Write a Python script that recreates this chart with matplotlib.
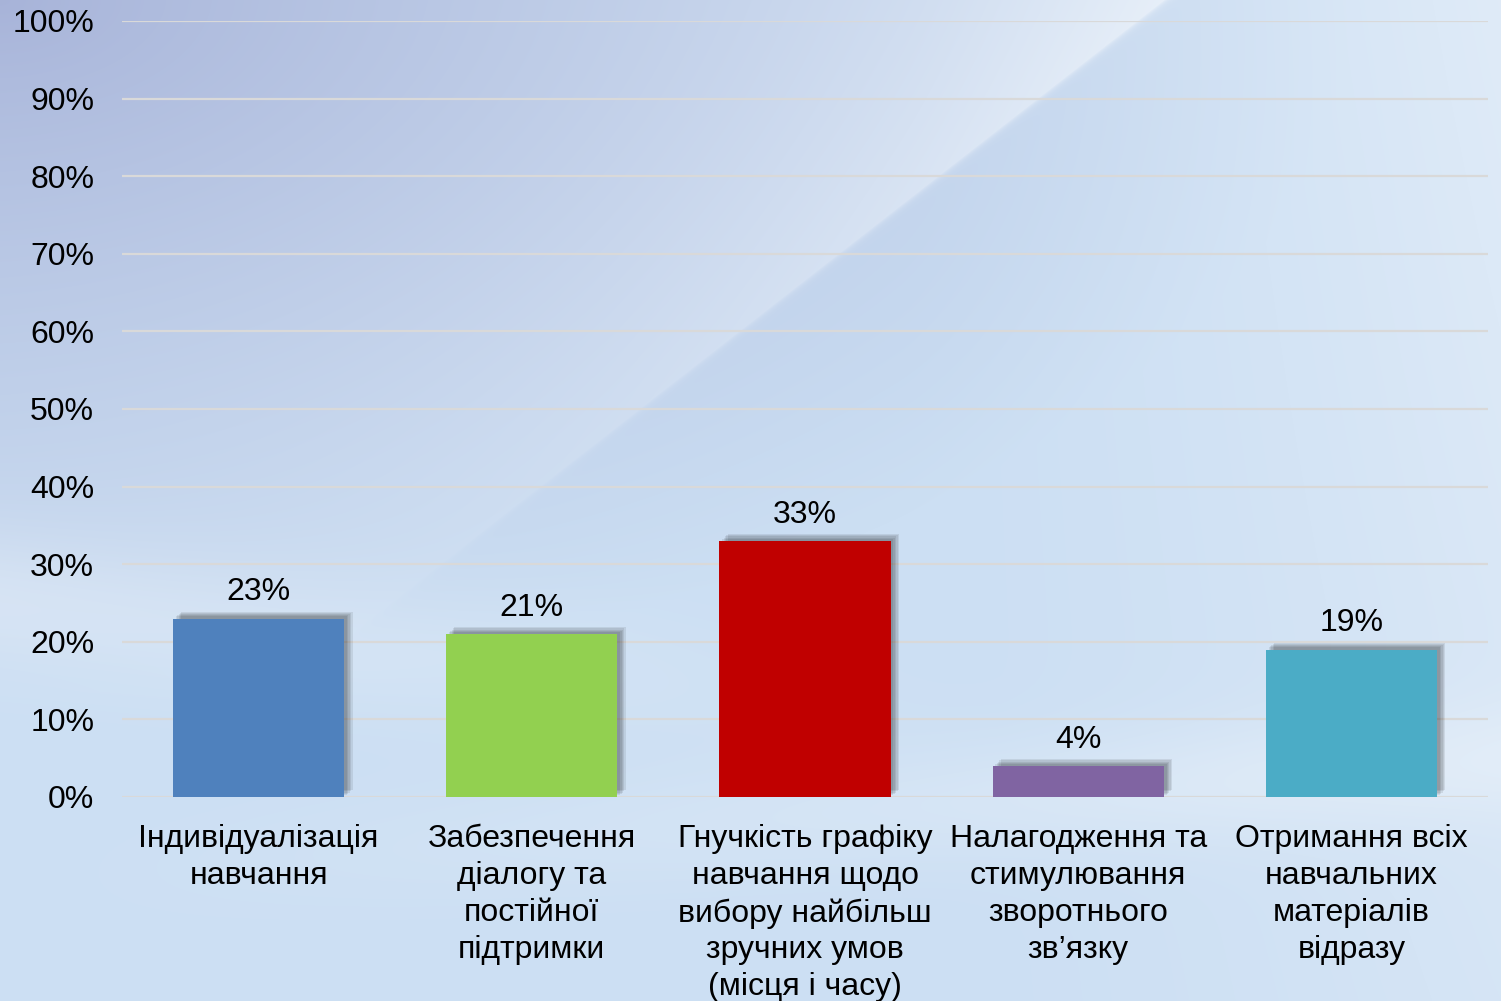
import numpy as np
import matplotlib
matplotlib.use("Agg")
import matplotlib.pyplot as plt
import matplotlib.patheffects as pe
from matplotlib.ticker import FuncFormatter

plt.rcParams['font.family'] = ['Liberation Sans', 'DejaVu Sans']

categories = [
    "Індивідуалізація\nнавчання",
    "Забезпечення\nдіалогу та\nпостійної\nпідтримки",
    "Гнучкість графіку\nнавчання щодо\nвибору найбільш\nзручних умов\n(місця і часу)",
    "Налагодження та\nстимулювання\nзворотнього\nзв’язку",
    "Отримання всіх\nнавчальних\nматеріалів\nвідразу",
]
values = [0.23, 0.21, 0.33, 0.04, 0.19]
value_labels = ["23%", "21%", "33%", "4%", "19%"]
colors = ["#4f81bd", "#92d050", "#c00000", "#8064a2", "#4bacc6"]
yticks = [0.0, 0.1, 0.2, 0.3, 0.4, 0.5, 0.6, 0.7, 0.8, 0.9, 1.0]

W, H = 1501, 1001
fig = plt.figure(figsize=(W / 100, H / 100), dpi=100)

# ---- background (decorative gradient) ----
yy, xx = np.mgrid[0:H, 0:W].astype(float)
xn, yn = xx / W, yy / H
c_dark = np.array([166, 178, 216]) / 255.0
c_mid = np.array([204, 223, 243]) / 255.0
c_light = np.array([236, 243, 251]) / 255.0
d = np.clip(np.sqrt((xn * 1.0) ** 2 + (yn * 1.3) ** 2) / 0.9, 0, 1)
t = d ** 0.8
img = (c_dark[None, None, :] * (1 - t[..., None]) + c_mid[None, None, :] * t[..., None])
# lighten toward right
r = np.clip((xn - 0.6) / 0.4, 0, 1) ** 1.5 * np.clip(1 - yn * 0.5, 0, 1)
img = img * (1 - r[..., None] * 0.6) + c_light[None, None, :] * (r[..., None] * 0.6)
# diagonal glow band
x_line = 1163 - (363 / 283) * yy
s = (x_line - xx) / np.sqrt(1 + (363 / 283) ** 2)
glow = np.where(s > 0, np.exp(-s / 200.0), np.exp(s / 3.0)) * 0.5
glow *= np.clip(1 - yn * 1.5, 0, 1)
white = np.ones(3)
img = img * (1 - glow[..., None]) + white[None, None, :] * glow[..., None]
# lower swoosh bands
b1 = np.exp(-((yy - (600 + 0.12 * xx)) / 70.0) ** 2) * 0.25 * np.clip(1 - xn * 1.5, 0, 1)
img = img * (1 - b1[..., None]) + white[None, None, :] * b1[..., None]
b2 = np.exp(-((yy - (880 - 0.08 * xx)) / 60.0) ** 2) * 0.25 * np.clip(xn * 1.2, 0, 1)
img = img * (1 - b2[..., None]) + white[None, None, :] * b2[..., None]
bg = fig.add_axes([0, 0, 1, 1], zorder=-10)
bg.imshow(np.clip(img, 0, 1), aspect='auto', extent=[0, 1, 0, 1], interpolation='bilinear')
bg.axis('off')

# ---- chart ----
left, right = 122 / W, 1488 / W
bottom, top = 1 - 797 / H, 1 - 21 / H
ax = fig.add_axes([left, bottom, right - left, top - bottom])
ax.patch.set_alpha(0)

x = np.arange(len(categories))
shadow = [pe.SimplePatchShadow(offset=(o, o * 0.8), shadow_rgbFace='k', alpha=0.08)
          for o in (6, 5, 4, 3, 2)] + [pe.Normal()]
bars = ax.bar(x, values, width=0.627, color=colors, zorder=3)
for b in bars:
    b.set_path_effects(shadow)

for xi, v, lab in zip(x, values, value_labels):
    ax.annotate(lab, (xi, v), xytext=(0, 8), textcoords='offset points',
                ha='center', va='bottom', fontsize=23, color='black', zorder=4)

ax.set_xlim(-0.5, len(categories) - 0.5)
ax.set_ylim(0, 1)
ax.set_yticks(yticks)
ax.yaxis.set_major_formatter(FuncFormatter(lambda v, p: f"{int(round(v * 100))}%"))
ax.set_xticks(x)
ax.set_xticklabels(categories, fontsize=23, linespacing=1.3, va='top')
ax.tick_params(axis='y', length=0, pad=20, labelsize=23)
ax.tick_params(axis='x', length=0, pad=19.5)
ax.grid(axis='y', color='#d9d9d9', linewidth=1.6, zorder=0)
ax.set_axisbelow(True)
for sp in ax.spines.values():
    sp.set_visible(False)

fig.savefig("out.png", dpi=100)
